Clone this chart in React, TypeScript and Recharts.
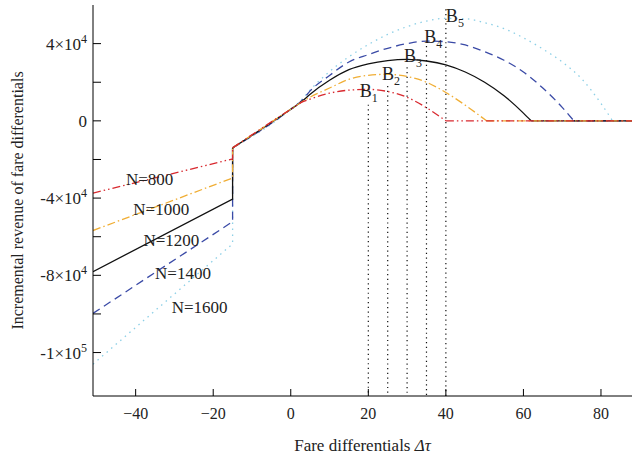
import { LineChart, Line, XAxis, YAxis, ReferenceLine, ReferenceDot } from 'recharts';

const FONT = '"Liberation Serif", "Times New Roman", Times, serif';
const INK = '#222';

const X_MIN = -51;
const X_MAX = 88;
const Y_MIN = -142500;
const Y_MAX = 60000;

const xTicks = [-40, -20, 0, 20, 40, 60, 80];
const yTicks = [-120000, -100000, -80000, -60000, -40000, -20000, 0, 20000, 40000];
// printed y labels as [mantissa, exponent]; unlisted ticks stay unlabelled
const yTickText: Record<string, [string, string]> = {
  '40000': ['4', '4'],
  '0': ['0', ''],
  '-40000': ['-4', '4'],
  '-80000': ['-8', '4'],
  '-120000': ['-1', '5'],
};

const crowdLabels = ['N=800', 'N=1000', 'N=1200', 'N=1400', 'N=1600'];

// below Δτ = -15 every curve is straight, then it jumps up at -15
const lowX = [-51, -15, -15];
const low800 = [-37400, -19700, -14000];
const low1000 = [-56800, -29600, -14000];
const low1200 = [-78100, -40500, -14000];
const low1400 = [-99700, -52200, -14000];
const low1600 = [-126000, -63700, -14000];

// above -15, until the revenue falls back to zero
const upX800 = [-15, 0, 3, 5, 10, 15, 20, 25, 30, 35, 40];
const up800 = [-14000, 6000, 9800, 11300, 14300, 15900, 16300, 15200, 12200, 6800, 0];
const upX1000 = [-15, 0, 3, 5, 10, 15, 20, 25, 30, 35, 40, 45, 50.5];
const up1000 = [-14000, 6000, 10000, 12300, 17000, 21500, 23600, 24100, 23000, 20000, 14700, 8100, 0];
const upX1200 = [-15, 0, 3, 5, 10, 15, 20, 25, 30, 35, 40, 45, 50, 55, 60, 62];
const up1200 = [-14000, 6000, 10300, 13800, 21000, 26500, 29500, 31200, 31800, 31000, 29000, 25300, 20000, 13000, 4000, 0];
const upX1400 = [-15, 0, 3, 5, 10, 15, 20, 25, 30, 35, 40, 45, 50, 55, 60, 65, 70, 73];
const up1400 = [-14000, 6000, 10800, 15500, 23500, 30500, 34300, 37600, 40000, 41300, 41000, 39300, 35800, 31400, 25300, 17000, 7000, 0];
const upX1600 = [-15, 0, 3, 5, 10, 15, 20, 25, 30, 35, 40, 45, 50, 55, 60, 65, 70, 75, 80, 83];
const up1600 = [-14000, 6000, 11300, 16000, 25500, 33200, 39500, 44800, 48800, 51700, 53100, 52900, 50800, 47800, 43000, 37200, 30500, 21800, 9000, 0];

// optimum markers B1..B5
const bNames = ['1', '2', '3', '4', '5'];
const bX = [20, 25, 30, 35, 40];
const bTop = [8400, 18000, 27700, 38800, 57800];

// text anchors (left end, baseline) in data units
const crowdLabelAt = [[-42.5, -33100], [-40.6, -48700], [-38, -64800], [-35, -82000], [-30.7, -99400]];
const bLabelAt = [[17.8, 12100], [23.5, 20900], [29.2, 30300], [34.4, 40200], [40, 51100]];

const pts = (xs: number[], ys: number[]) => xs.map((x, i) => ({ x, y: ys[i] }));

const series = [
  { key: 'n1600', low: low1600, upX: upX1600, up: up1600, color: '#8ccfe6', dash: '1.5 4.5' },
  { key: 'n1400', low: low1400, upX: upX1400, up: up1400, color: '#3a4aa6', dash: '8 5' },
  { key: 'n1200', low: low1200, upX: upX1200, up: up1200, color: '#111111', dash: undefined },
  { key: 'n1000', low: low1000, upX: upX1000, up: up1000, color: '#f0ae35', dash: '8 3 1.5 3' },
  { key: 'n800', low: low800, upX: upX800, up: up800, color: '#d8292f', dash: '8 3 1.5 3 1.5 3' },
];

const textStyle = { fontFamily: FONT };

const fmtX = (v: number) => (v < 0 ? `\u2212${-v}` : `${v}`);

function XTick({ x, y, payload }: any) {
  return (
    <text x={x} y={y} dy={12} textAnchor="middle" style={textStyle} fontSize={16} fill={INK}>
      {fmtX(payload.value)}
    </text>
  );
}

function YTick({ x, y, payload }: any) {
  const lab = yTickText[String(payload.value)];
  if (!lab) return null;
  return (
    <text x={x} y={y} dy={6} textAnchor="end" style={textStyle} fontSize={17} fill={INK}>
      {lab[0]}
      {lab[1] && (
        <>
          ×10<tspan dy={-7} fontSize={12}>{lab[1]}</tspan>
        </>
      )}
    </text>
  );
}

const dotCenter = (p: any) => {
  const vb = p.viewBox || {};
  return [vb.x + (vb.width || 0) / 2, vb.y + (vb.height || 0) / 2];
};

export default function App() {
  return (
    <div style={{ position: 'absolute', left: 0, top: 0, background: '#fff', fontFamily: FONT }}>
      <LineChart width={633} height={459} margin={{ top: 5, right: 1, bottom: 0, left: 0 }}>
        <XAxis
          type="number"
          dataKey="x"
          domain={[X_MIN, X_MAX]}
          ticks={xTicks}
          allowDataOverflow
          height={63}
          stroke="#000"
          tickSize={-7}
          tickMargin={18}
          tick={<XTick />}
          label={(p: any) => {
            const vb = p.viewBox || { x: 93, y: 396, width: 539 };
            return (
              <text x={vb.x + vb.width / 2} y={vb.y + 55} textAnchor="middle" style={textStyle} fontSize={17} fill={INK}>
                Fare differentials <tspan fontStyle="italic">Δτ</tspan>
              </text>
            );
          }}
        />
        <XAxis xAxisId="top" orientation="top" type="number" dataKey="x" domain={[X_MIN, X_MAX]} ticks={xTicks}
          allowDataOverflow mirror height={0} tick={false} tickSize={7} stroke="#000" />
        <YAxis
          type="number"
          domain={[Y_MIN, Y_MAX]}
          ticks={yTicks}
          allowDataOverflow
          width={93}
          stroke="#000"
          tickSize={-8}
          tickMargin={14}
          tick={<YTick />}
          label={(p: any) => {
            const vb = p.viewBox || { x: 0, y: 5, height: 391 };
            const cy = vb.y + vb.height / 2;
            return (
              <text x={17} y={cy} transform={`rotate(-90, 17, ${cy})`} textAnchor="middle" dominantBaseline="central"
                style={textStyle} fontSize={16} fill={INK}>
                Incremental revenue of fare differentials
              </text>
            );
          }}
        />
        <YAxis yAxisId="right" orientation="right" type="number" domain={[Y_MIN, Y_MAX]} ticks={yTicks}
          allowDataOverflow mirror width={0} tick={false} tickSize={8} stroke="#000" />

        {bX.map((x, i) => (
          <ReferenceLine
            key={`b${i}`}
            segment={[{ x, y: bTop[i] }, { x, y: Y_MIN }]}
            stroke="#111"
            strokeWidth={1.2}
            strokeDasharray="1.2 3.5"
          />
        ))}

        {series.map((s) => [
          <Line key={`${s.key}-low`} data={pts(lowX, s.low)} dataKey="y" type="linear" stroke={s.color}
            strokeWidth={1.3} strokeDasharray={s.dash} dot={false} activeDot={false} isAnimationActive={false} />,
          <Line key={`${s.key}-up`} data={pts(s.upX, s.up)} dataKey="y" type="monotone" stroke={s.color}
            strokeWidth={1.3} strokeDasharray={s.dash} dot={false} activeDot={false} isAnimationActive={false} />,
          <Line key={`${s.key}-tail`} data={pts([s.upX[s.upX.length - 1], X_MAX], [0, 0])} dataKey="y" type="linear"
            stroke={s.color} strokeWidth={1.3} strokeDasharray={s.dash} dot={false} activeDot={false} isAnimationActive={false} />,
        ])}

        {crowdLabels.map((t, i) => (
          <ReferenceDot
            key={t}
            x={crowdLabelAt[i][0]}
            y={crowdLabelAt[i][1]}
            r={1}
            fill="none"
            stroke="none"
            label={(p: any) => {
              const [cx, cy] = dotCenter(p);
              return (
                <text x={cx} y={cy} style={textStyle} fontSize={17} fill={INK}>
                  {t}
                </text>
              );
            }}
          />
        ))}

        {bNames.map((n, i) => (
          <ReferenceDot
            key={`bl${n}`}
            x={bLabelAt[i][0]}
            y={bLabelAt[i][1]}
            r={1}
            fill="none"
            stroke="none"
            label={(p: any) => {
              const [cx, cy] = dotCenter(p);
              return (
                <text x={cx} y={cy} style={textStyle} fontSize={18} fill={INK}>
                  B<tspan dy={5} fontSize={12}>{n}</tspan>
                </text>
              );
            }}
          />
        ))}
      </LineChart>
    </div>
  );
}
